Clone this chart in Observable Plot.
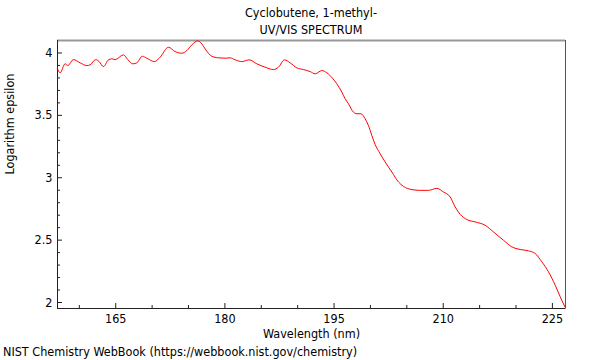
<!DOCTYPE html>
<html>
<head>
<meta charset="utf-8">
<script src="https://cdn.jsdelivr.net/npm/d3@7"></script>
<script src="https://cdn.jsdelivr.net/npm/@observablehq/plot@0.6"></script>
<style>
  body { margin: 0; background: #fff; font-family: "DejaVu Sans Condensed", "DejaVu Sans", sans-serif; }
  #title { width: 600px; box-sizing: border-box; padding: 4px 0 0 22px; text-align: center; font-size: 12.5px; line-height: 17px; color: #000; height: 38px; }
  #chart svg { display: block; }
  #caption { font-size: 12.5px; line-height: 16px; padding-left: 3px; color: #000; }
</style>
</head>
<body>
<div id="title"><div>Cyclobutene, 1-methyl-</div><div>UV/VIS SPECTRUM</div></div>
<div id="chart"></div>
<div id="caption">NIST Chemistry WebBook (https://webbook.nist.gov/chemistry)</div>
<script>
// ---- data ----
const wavelength = [157.0, 157.36, 158.04, 158.42, 159.18, 160.11, 161.03, 161.48, 162.26, 162.72, 163.31, 164.0, 164.46, 164.92, 166.06, 166.66, 167.35, 167.9, 168.67, 169.27, 170.32, 171.1, 172.24, 173.16, 174.08, 174.77, 175.46, 176.28, 176.83, 177.28, 178.2, 179.11, 180.03, 180.72, 181.41, 182.33, 183.33, 184.39, 185.53, 186.67, 187.36, 188.18, 188.96, 189.88, 190.79, 191.71, 192.4, 193.32, 194.01, 194.78, 195.38, 196.07, 196.52, 196.98, 197.66, 198.13, 198.68, 199.27, 199.72, 200.19, 200.64, 201.33, 202.02, 202.94, 203.85, 204.53, 205.69, 206.83, 207.97, 209.12, 210.03, 210.95, 211.64, 212.33, 213.25, 214.39, 215.76, 216.9, 218.28, 219.43, 220.57, 221.71, 222.63, 223.55, 224.46, 225.38, 226.07, 226.76];
const logEpsilon = [3.873, 3.841, 3.913, 3.899, 3.947, 3.921, 3.899, 3.905, 3.947, 3.931, 3.891, 3.945, 3.953, 3.947, 3.985, 3.947, 3.913, 3.921, 3.974, 3.958, 3.931, 3.966, 4.046, 4.011, 3.998, 4.019, 4.065, 4.097, 4.073, 4.033, 3.974, 3.961, 3.958, 3.961, 3.945, 3.931, 3.945, 3.913, 3.886, 3.867, 3.886, 3.945, 3.921, 3.881, 3.867, 3.851, 3.833, 3.859, 3.841, 3.798, 3.753, 3.686, 3.633, 3.593, 3.526, 3.513, 3.513, 3.473, 3.419, 3.339, 3.267, 3.193, 3.126, 3.046, 2.966, 2.931, 2.905, 2.899, 2.899, 2.915, 2.886, 2.846, 2.766, 2.707, 2.665, 2.646, 2.619, 2.566, 2.499, 2.446, 2.425, 2.414, 2.393, 2.326, 2.246, 2.139, 2.046, 1.961];
const xTicks = [165, 180, 195, 210, 225];
const xMinorTicks = [160, 170, 175, 185, 190, 200, 205, 215, 220];
const yTicks = [2, 2.5, 3, 3.5, 4];
const yTickLabels = ["2", "2.5", "3", "3.5", "4"];
const yMinorTicks = [2.1, 2.2, 2.3, 2.4, 2.6, 2.7, 2.8, 2.9, 3.1, 3.2, 3.3, 3.4, 3.6, 3.7, 3.8, 3.9];
const xLabel = "Wavelength (nm)";
const yLabel = "Logarithm epsilon";
const xDomain = [157, 226.8];
const yDomain = [1.952, 4.1];

const data = wavelength.map((w, i) => ({w, v: logEpsilon[i]}));

const W = 600, mL = 57, mR = 35, mT = 2, plotH = 268, mB = 36;
const plotW = W - mL - mR;
const font = '"DejaVu Sans Condensed", "DejaVu Sans", sans-serif';

const chart = Plot.plot({
  width: W,
  height: mT + plotH + mB,
  marginLeft: mL, marginRight: mR, marginTop: mT, marginBottom: mB,
  style: {fontFamily: font, fontSize: "12px", color: "#000", background: "#fff"},
  x: {domain: xDomain},
  y: {domain: yDomain},
  marks: [
    Plot.frame({stroke: "#999", strokeWidth: 1}),
    Plot.ruleY([yDomain[1]], {stroke: "#999", strokeWidth: 2}),
    Plot.ruleX([xDomain[1]], {stroke: "#555", strokeWidth: 1}),
    Plot.ruleY([yDomain[0]], {stroke: "#222", strokeWidth: 1}),
    Plot.ruleX([xDomain[0]], {stroke: "#222", strokeWidth: 1}),
    // inward ticks
    Plot.ruleX(xTicks, {x: d => d, insetTop: plotH - 5, stroke: "#222"}),
    Plot.ruleX(xMinorTicks, {x: d => d, insetTop: plotH - 3, stroke: "#222"}),
    Plot.ruleY(yTicks, {y: d => d, insetRight: plotW - 5, stroke: "#222"}),
    Plot.ruleY(yMinorTicks, {y: d => d, insetRight: plotW - 3, stroke: "#222"}),
    Plot.axisX(xTicks, {tickSize: 0, tickPadding: 6, label: null, fontSize: 12.5}),
    Plot.axisY(yTicks, {tickSize: 0, tickPadding: 5, tickFormat: (d) => yTickLabels[yTicks.indexOf(d)], label: null, fontSize: 12.5}),
    Plot.text([xLabel], {text: d => d, frameAnchor: "bottom", dy: 25.5, lineAnchor: "middle", fontSize: 12.5, fill: "#000"}),
    Plot.text([yLabel], {text: d => d, frameAnchor: "left", dx: -48, rotate: -90, lineAnchor: "middle", fontSize: 12.5, fill: "#000"}),
    Plot.line(data, {x: "w", y: "v", stroke: "#ff0000", strokeWidth: 1, curve: "monotone-x"})
  ]
});
document.getElementById("chart").appendChild(chart);
</script>
</body>
</html>
